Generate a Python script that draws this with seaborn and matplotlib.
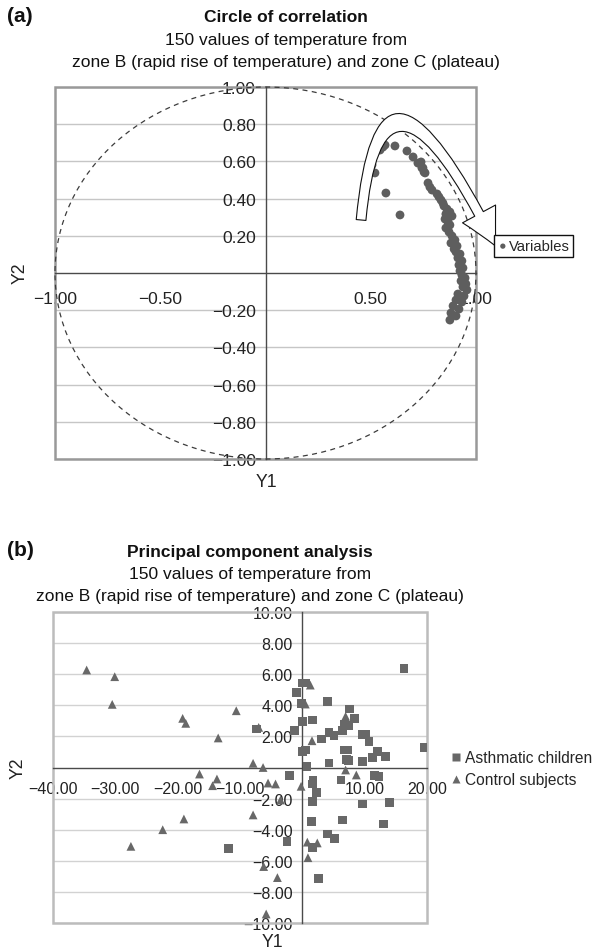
import matplotlib
matplotlib.use("Agg")
import matplotlib.pyplot as plt
import numpy as np
import pandas as pd
import seaborn as sns
from matplotlib.patches import Ellipse, Rectangle, FancyArrowPatch, ArrowStyle
from matplotlib.path import Path

# ---------------- data: panel (a) circle of correlation ----------------
var_y1 = [0.558, 0.544, 0.568, 0.615, 0.506, 0.520, 0.572, 0.639, 0.672, 0.701,
          0.724, 0.743, 0.758, 0.739, 0.748, 0.753, 0.772, 0.781, 0.791, 0.815,
          0.824, 0.834, 0.843, 0.848, 0.862, 0.876, 0.857, 0.886, 0.853, 0.867,
          0.876, 0.857, 0.872, 0.886, 0.900, 0.881, 0.910, 0.896, 0.905, 0.924,
          0.914, 0.933, 0.919, 0.938, 0.924, 0.933, 0.948, 0.929, 0.952, 0.938,
          0.957, 0.914, 0.943, 0.905, 0.933, 0.891, 0.919, 0.881, 0.905, 0.876]
var_y2 = [0.677, 0.661, 0.688, 0.683, 0.581, 0.538, 0.430, 0.312, 0.656, 0.624,
          0.591, 0.565, 0.538, 0.597, 0.565, 0.543, 0.484, 0.462, 0.446, 0.425,
          0.409, 0.392, 0.376, 0.360, 0.344, 0.328, 0.317, 0.306, 0.290, 0.274,
          0.258, 0.242, 0.220, 0.199, 0.177, 0.161, 0.145, 0.129, 0.113, 0.102,
          0.081, 0.065, 0.043, 0.027, 0.011, -0.011, -0.027, -0.043, -0.059, -0.075,
          -0.091, -0.113, -0.124, -0.145, -0.156, -0.177, -0.194, -0.215, -0.231, -0.253]

a_xticks = [-1.0, -0.5, 0.5, 1.0]
a_yticks = [-1.0, -0.8, -0.6, -0.4, -0.2, 0.2, 0.4, 0.6, 0.8, 1.0]

# ---------------- data: panel (b) principal component analysis ----------------
asth_y1 = [16.3, 19.6, -0.96, 0.0, 0.53, -0.16, -1.23, 0.0, 1.6, 0.0,
           0.53, 0.74, 4.1, 3.05, 4.27, 5.07, 4.27, 6.5, 6.78, 7.6,
           7.5, 8.4, 6.78, 7.2, 7.06, 7.4, 9.6, 9.6, 10.2, 10.7,
           11.3, 12.0, 13.3, 11.6, 12.3, 6.2, -2.0, 1.7, 1.6, 2.24,
           1.6, 1.44, 1.6, 2.6, -2.45, -7.4, -11.9, 9.6, 14.0, 13.0,
           6.4, 4.1, 5.18]
asth_y2 = [6.37, 1.3, 4.83, 5.43, 5.43, 4.13, 2.37, 2.94, 3.05, 1.04,
           1.12, 0.05, 4.23, 1.83, 2.26, 2.04, 0.29, 2.37, 2.8, 3.76,
           2.69, 3.16, 1.12, 1.12, 0.5, 0.44, 0.37, 2.1, 2.15, 1.66,
           0.65, 1.02, 0.69, -0.53, -0.6, -0.8, -0.53, -0.85, -1.06, -1.6,
           -2.17, -3.48, -5.13, -7.12, -4.77, 2.47, -5.19, -2.35, -2.24, -3.63,
           -3.37, -4.27, -4.55]
ctrl_y1 = [-34.6, -30.1, -30.5, -19.2, -18.7, -10.6, -13.5, -7.0, -7.9, -6.3,
           -16.5, -14.4, -13.7, -5.5, -4.3, -3.5, -7.9, -19.0, -22.4, -27.5,
           -6.2, -4.0, -5.8, -0.2, 0.8, 2.4, 0.9, 1.28, 0.48, 1.55,
           6.94, 6.94, 8.66]
ctrl_y2 = [6.27, 5.84, 4.06, 3.16, 2.84, 3.65, 1.9, 2.58, 0.27, 0.0,
           -0.42, -1.17, -0.74, -1.0, -1.06, -2.09, -3.05, -3.31, -4.0, -5.07,
           -6.37, -7.08, -9.42, -1.21, -4.8, -4.85, -5.8, 5.3, 4.08, 1.72,
           3.29, -0.16, -0.48]
groups = ["Asthmatic children", "Control subjects"]

b_xticks = [-40, -30, -20, -10, 10, 20]
b_yticks = [-10, -8, -6, -4, -2, 2, 4, 6, 8, 10]

# ---------------- style ----------------
sns.set_theme(style="white")
plt.rcParams['font.family'] = ['Liberation Sans', 'DejaVu Sans']
plt.rcParams['axes.unicode_minus'] = True

W, H = 593, 953
fig = plt.figure(figsize=(W / 100, H / 100), dpi=100)


def fx(px):
    return px / W


def fy(py):
    return 1 - py / H


def fmt(v):
    s = f"{abs(v):.2f}"
    return ("\u2212" + s) if v < 0 else s


def style_axes(ax, xt, yt, frame_col, grid_col, fs, xpad, ypad):
    for s in ['top', 'right']:
        ax.spines[s].set_visible(False)
    for s in ['left', 'bottom']:
        ax.spines[s].set_position(('data', 0))
        ax.spines[s].set_color('#4a4a4a')
        ax.spines[s].set_linewidth(1.0)
        ax.spines[s].set_zorder(2)
    ax.set_xticks(xt)
    ax.set_xticklabels([fmt(v) for v in xt])
    ax.set_yticks(yt)
    ax.set_yticklabels([fmt(v) for v in yt])
    ax.tick_params(axis='both', direction='out', length=5, width=1,
                   color='#4a4a4a', labelsize=fs, labelcolor='#222222')
    ax.tick_params(axis='x', pad=xpad)
    ax.tick_params(axis='y', pad=ypad)
    ax.yaxis.grid(True, color=grid_col, lw=1.0)
    ax.xaxis.grid(False)
    ax.set_axisbelow(True)
    ax.add_patch(Rectangle((0, 0), 1, 1, transform=ax.transAxes, fill=False,
                           ec=frame_col, lw=1.8, clip_on=False, zorder=1))
    ax.set_xlabel('')
    ax.set_ylabel('')


# ================= panel (a) =================
ax1 = fig.add_axes([fx(55), fy(460), (476 - 55) / W, (460 - 88) / H])
ax1.set_facecolor('none')
sns.scatterplot(x=var_y1, y=var_y2, ax=ax1, color='#5e5e5e', s=40,
                edgecolor='none', marker='o', label='Variables', zorder=3)
ax1.set_xlim(-1, 1)
ax1.set_ylim(-1, 1)
style_axes(ax1, a_xticks, a_yticks, '#999999', '#c6c6c6', 12.5, 8, 2)
ax1.add_patch(Ellipse((0, 0), 2, 2, transform=ax1.transData, fill=False,
                      ec='#3c3c3c', lw=0.9, ls=(0, (4, 3.5)), clip_on=False, zorder=2.5))

arrow_path = Path([(0.454, 0.285), (0.545, 1.40), (1.093, 0.145)],
                  [Path.MOVETO, Path.CURVE3, Path.CURVE3])
arr = FancyArrowPatch(path=arrow_path,
                      arrowstyle=ArrowStyle.Simple(head_length=26, head_width=27, tail_width=7),
                      fc='white', ec='#111111', lw=0.8, transform=ax1.transData,
                      clip_on=False, zorder=4)
ax1.add_patch(arr)

leg1 = ax1.legend(loc='center left', bbox_to_anchor=(fx(494), fy(247)),
                  bbox_transform=fig.transFigure, frameon=True, fancybox=False,
                  edgecolor='#111111', framealpha=1, fontsize=10.6,
                  handletextpad=0.05, handlelength=0.7, borderpad=0.25,
                  borderaxespad=0, markerscale=0.6)
leg1.get_frame().set_linewidth(1.0)
leg1.set_zorder(6)

fig.text(fx(20), fy(273), 'Y2', rotation=90, ha='center', va='center', fontsize=12.7, color='#222222')
fig.text(fx(266), fy(483), 'Y1', ha='center', va='center', fontsize=12.7, color='#222222')

fig.text(fx(7), fy(17), '(a)', ha='left', va='center', fontsize=15, weight='bold', color='#111111')
fig.text(fx(286), fy(17), 'Circle of correlation', ha='center', va='center',
         fontsize=12.5, weight='bold', color='#111111')
fig.text(fx(286), fy(40), '150 values of temperature from', ha='center', va='center',
         fontsize=12.5, color='#111111')
fig.text(fx(286), fy(62), 'zone B (rapid rise of temperature) and zone C (plateau)',
         ha='center', va='center', fontsize=12.5, color='#111111')

# ================= panel (b) =================
df = pd.DataFrame({
    'Y1': asth_y1 + ctrl_y1,
    'Y2': asth_y2 + ctrl_y2,
    'group': [groups[0]] * len(asth_y1) + [groups[1]] * len(ctrl_y1),
})
ax2 = fig.add_axes([fx(53), fy(924), (427 - 53) / W, (924 - 613) / H])
ax2.set_facecolor('none')
sns.scatterplot(data=df, x='Y1', y='Y2', style='group', style_order=groups,
                markers={groups[0]: 's', groups[1]: '^'}, color='#686868',
                s=40, edgecolor='none', ax=ax2, zorder=3)
ax2.set_xlim(-40, 20)
ax2.set_ylim(-10, 10)
style_axes(ax2, b_xticks, b_yticks, '#bcbcbc', '#d2d2d2', 11.5, 5, 2)

sns.move_legend(ax2, 'center left', bbox_to_anchor=(fx(447), fy(770)),
                bbox_transform=fig.transFigure, title=None, frameon=False,
                fontsize=11.2, handletextpad=0.15, labelspacing=0.45,
                handlelength=0.8, borderaxespad=0, borderpad=0.2, markerscale=0.8)

fig.text(fx(18), fy(768), 'Y2', rotation=90, ha='center', va='center', fontsize=12.7, color='#222222')
fig.text(fx(272), fy(943), 'Y1', ha='center', va='center', fontsize=12.7, color='#222222')

fig.text(fx(7), fy(551), '(b)', ha='left', va='center', fontsize=15, weight='bold', color='#111111')
fig.text(fx(250), fy(552), 'Principal component analysis', ha='center', va='center',
         fontsize=12.5, weight='bold', color='#111111')
fig.text(fx(250), fy(574), '150 values of temperature from', ha='center', va='center',
         fontsize=12.5, color='#111111')
fig.text(fx(250), fy(596), 'zone B (rapid rise of temperature) and zone C (plateau)',
         ha='center', va='center', fontsize=12.5, color='#111111')

fig.savefig('out.png', dpi=100)
